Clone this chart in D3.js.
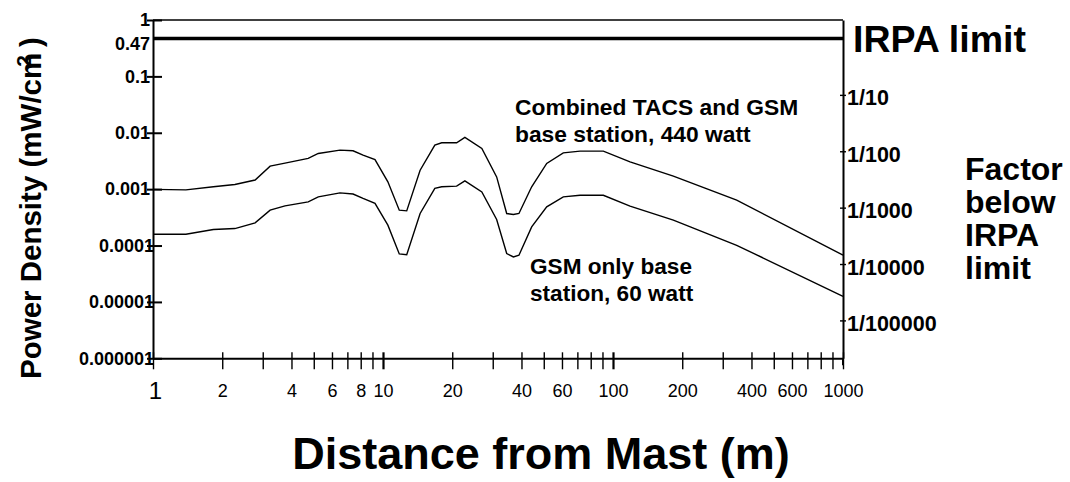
<!DOCTYPE html>
<html>
<head>
<meta charset="utf-8">
<script src="https://cdn.jsdelivr.net/npm/d3@7"></script>
<style>
	body { margin: 0; background: #fff; }
	text { font-family: "Liberation Sans", Arial, sans-serif; fill: #000; }
</style>
</head>
<body>
<div id="vis-proper"></div>
<script>
// distance from mast (m)
const distances = [1, 1.39, 1.83, 2.27, 2.78, 3.23, 3.75, 4.73, 5.23, 6.5, 7.41, 8.19, 9.23,
	10.5, 11.77, 12.68, 14.5, 16.8, 18.0, 20.9, 22.7, 26.9, 31.2, 34.5, 36.9, 39.0,
	44.3, 51.5, 60.8, 71.9, 90.8, 118.6, 183, 345, 1000];
// power density (mW/cm2)
const combined = [0.00099, 0.00097, 0.0011, 0.00121, 0.00145, 0.00256, 0.00289, 0.00351, 0.0043, 0.00492, 0.00479, 0.00401, 0.00334,
	0.00135, 0.000424, 0.000412, 0.00217, 0.00604, 0.00664, 0.00664, 0.00827, 0.00528, 0.00165, 0.00037, 0.000356, 0.00037,
	0.0011, 0.00286, 0.00441, 0.00472, 0.00472, 0.00305, 0.0017, 0.000638, 0.0000673];
const gsmOnly = [0.000159, 0.000159, 0.000192, 0.0002, 0.000252, 0.000424, 0.000505, 0.000594, 0.00073, 0.00086, 0.00082, 0.000684, 0.00056,
	0.00023, 0.000071, 0.0000687, 0.00037, 0.00103, 0.0011, 0.00113, 0.0014, 0.000895, 0.00029, 0.0000722, 0.0000628, 0.0000673,
	0.000214, 0.000485, 0.00073, 0.00078, 0.00078, 0.000499, 0.000282, 0.000101, 0.0000126];

const irpaLimit = 0.47;

const yTicks = [1, 0.1, 0.01, 0.001, 0.0001, 0.00001, 0.000001];
const yTickLabels = ["1", "0.1", "0.01", "0.001", "0.0001", "0.00001", "0.000001"];

const factorTicks = [10, 100, 1000, 10000, 100000];
const factorLabels = ["1/10", "1/100", "1/1000", "1/10000", "1/100000"];

const xTicks = [1, 2, 3, 4, 5, 6, 7, 8, 9, 10, 20, 30, 40, 50, 60, 70, 80, 90,
	100, 200, 300, 400, 500, 600, 700, 800, 900, 1000];
const xTickLabels = [1, 2, 4, 6, 8, 10, 20, 40, 60, 100, 200, 400, 600, 1000];

const main = () => {
	draw();
};

const draw = () => {
	const visProper = d3.select("#vis-proper");
	visProper.selectAll("*").remove();
	const VISUAL_W = 1070;
	const VISUAL_H = 482;
	const svg = visProper.append("svg")
		.attr("width", VISUAL_W)
		.attr("height", VISUAL_H);

	const left = 153, right = 843, top = 20, bottom = 358.3;

	const x = d3.scaleLog().domain([1, 1000]).range([left, right]);
	const y = d3.scaleLog().domain([0.000001, 1]).range([bottom, top]);

	// top frame line
	svg.append("line")
		.attr("x1", left).attr("x2", right)
		.attr("y1", y(1)).attr("y2", y(1))
		.attr("stroke", "#000")
		.attr("stroke-width", 1.5);

	// left axis
	const yAxis = svg.append("g")
		.attr("transform", `translate(${left},0)`)
		.call(d3.axisLeft(y)
			.tickValues(yTicks)
			.tickFormat((d, i) => yTickLabels[i])
			.tickSizeOuter(0));
	yAxis.select(".domain").attr("stroke-width", 2);
	yAxis.selectAll(".tick line").attr("x1", -6).attr("x2", 9).attr("stroke-width", 2);
	yAxis.selectAll(".tick text")
		.attr("x", d => (d < 0.0002 ? 1 : -3))
		.attr("font-size", 18)
		.attr("font-weight", "bold")
		.attr("font-family", null);

	// bottom axis
	const xAxis = svg.append("g")
		.attr("transform", `translate(0,${bottom})`)
		.call(d3.axisBottom(x)
			.tickValues(xTicks)
			.tickFormat(d => (xTickLabels.includes(d) ? d : ""))
			.tickSizeOuter(0));
	xAxis.select(".domain").attr("stroke-width", 2);
	xAxis.selectAll(".tick line")
		.attr("y1", -6).attr("y2", 11)
		.attr("stroke-width", d => ([10, 100].includes(d) ? 2.2 : 1.4));
	xAxis.selectAll(".tick text")
		.attr("y", 39)
		.attr("dy", null)
		.attr("font-size", d => (d === 1 ? 24 : 18))
		.attr("dx", d => (d === 1 ? 2 : 0))
		.attr("font-family", null)
		.attr("transform", d => (d === 1 ? "translate(0,2)" : null));

	// right axis, factor below IRPA limit
	const rAxis = svg.append("g")
		.attr("transform", `translate(${right},0)`)
		.call(d3.axisRight(y)
			.tickValues(factorTicks.map(f => irpaLimit / f))
			.tickFormat((d, i) => factorLabels[i])
			.tickSizeOuter(0));
	rAxis.select(".domain").attr("stroke-width", 2);
	rAxis.selectAll(".tick line").attr("x1", -3).attr("x2", 3).attr("stroke-width", 1.4);
	rAxis.selectAll(".tick text")
		.attr("x", 4)
		.attr("dy", 10)
		.attr("font-size", 21.5)
		.attr("font-weight", "bold")
		.attr("font-family", null);
	svg.append("line")
		.attr("x1", right).attr("x2", right)
		.attr("y1", bottom).attr("y2", bottom + 7)
		.attr("stroke", "#000")
		.attr("stroke-width", 2);

	// IRPA limit line
	svg.append("line")
		.attr("x1", x(1)).attr("x2", x(1000))
		.attr("y1", y(irpaLimit)).attr("y2", y(irpaLimit))
		.attr("stroke", "#000")
		.attr("stroke-width", 3.5);
	svg.append("text")
		.attr("x", left - 3)
		.attr("y", y(irpaLimit) + 11.5)
		.attr("text-anchor", "end")
		.attr("font-size", 18)
		.attr("font-weight", "bold")
		.text(irpaLimit);

	// curves
	const line = d3.line()
		.x(d => x(d[0]))
		.y(d => y(d[1]));
	[combined, gsmOnly].forEach(series => {
		svg.append("path")
			.datum(distances.map((d, i) => [d, series[i]]))
			.attr("d", line)
			.attr("fill", "none")
			.attr("stroke", "#000")
			.attr("stroke-width", 1.4);
	});

	// annotations
	const multiLine = (xPos, yPos, size, step, lines) => {
		const t = svg.append("text")
			.attr("x", xPos)
			.attr("y", yPos)
			.attr("font-size", size)
			.attr("font-weight", "bold");
		lines.forEach((s, i) => {
			t.append("tspan")
				.attr("x", xPos)
				.attr("dy", i === 0 ? 0 : step)
				.text(s);
		});
	};
	multiLine(515, 115, 22.8, 27, ["Combined TACS and GSM", "base station, 440 watt"]);
	multiLine(530, 274, 22.6, 27, ["GSM only base", "station, 60 watt"]);
	multiLine(853, 52, 37.5, 0, ["IRPA limit"]);
	multiLine(965, 180, 32, 33, ["Factor", "below", "IRPA", "limit"]);

	// axis titles
	svg.append("text")
		.attr("x", 541)
		.attr("y", 469)
		.attr("text-anchor", "middle")
		.attr("font-size", 45)
		.attr("font-weight", "bold")
		.text("Distance from Mast (m)");

	const yTitle = svg.append("text")
		.attr("transform", "translate(41,379) rotate(-90)")
		.attr("font-size", 29.5)
		.attr("font-weight", "bold");
	yTitle.append("tspan").text("Power Density (mW/cm");
	yTitle.append("tspan").attr("font-size", 21).attr("dx", -14).attr("dy", -10).text("2");
	yTitle.append("tspan").attr("dy", 10).text(" )");
};

main();
</script>
</body>
</html>
